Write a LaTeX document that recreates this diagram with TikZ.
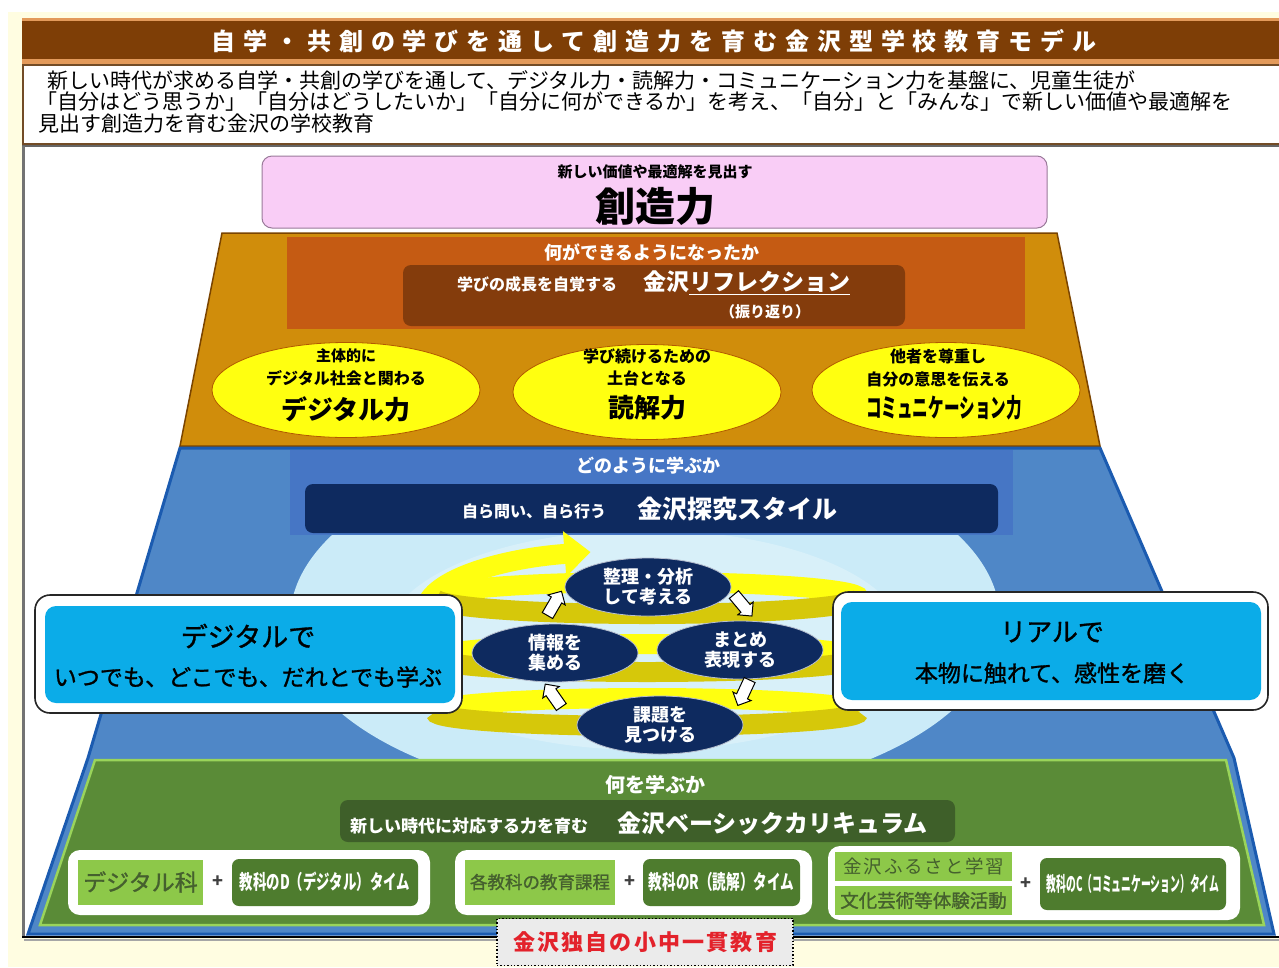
\documentclass[tikz,border=0pt]{standalone}
\usepackage{fontspec}
\setmainfont{Noto Sans CJK JP}
\newfontfamily\jpsp[LetterSpace=33]{Noto Sans CJK JP}
\newfontfamily\jpsq[LetterSpace=10]{Noto Sans CJK JP}
\newfontfamily\jpmed[FakeBold=1.2]{Noto Sans CJK JP}
\usetikzlibrary{shapes.arrows,shapes.geometric,arrows.meta}
\definecolor{cream}{HTML}{FFFDE1}
\definecolor{titlebrown}{HTML}{7E3E06}
\definecolor{titleedge}{HTML}{E39A5A}
\definecolor{pinkfill}{HTML}{F9CDF6}
\definecolor{pinkedge}{HTML}{9A7A9A}
\definecolor{orangefill}{HTML}{D08D0B}
\definecolor{orangeedge}{HTML}{7A4400}
\definecolor{reflfill}{HTML}{C55B13}
\definecolor{refldark}{HTML}{843C0C}
\definecolor{ylw}{HTML}{FFFF10}
\definecolor{ylwdark}{HTML}{D6C80A}
\definecolor{bluefill}{HTML}{4F87C7}
\definecolor{blueband}{HTML}{4676C5}
\definecolor{blueedge}{HTML}{1B5BB0}
\definecolor{lightcyan}{HTML}{CBEBF8}
\definecolor{navy}{HTML}{0E2A5F}
\definecolor{cyanbox}{HTML}{0BACE8}
\definecolor{greenfill}{HTML}{5A8B37}
\definecolor{greenedge}{HTML}{9AD45A}
\definecolor{greendark}{HTML}{3E5F29}
\definecolor{greenbtn}{HTML}{4E7C2E}
\definecolor{greenlight}{HTML}{8DC849}
\definecolor{greentext}{HTML}{45602E}
\definecolor{redtext}{HTML}{E3222B}
\newcommand\fsz[1]{\fontsize{#1}{#1}\selectfont}
\begin{document}
\begin{tikzpicture}[x=1pt,y=-1pt,
  every node/.style={inner sep=0pt,outer sep=0pt},
  wb/.style={text=white,font=\bfseries},
  yel/.style={ellipse,fill=ylw,draw=orange!70!black,line width=0.8pt,minimum width=268pt,minimum height=95pt},
  cyc/.style={ellipse,fill=navy,draw=white!70!navy,line width=0.8pt,minimum width=166pt,minimum height=58pt,text=white,align=center,font=\fontsize{18}{20}\selectfont\bfseries},
  warr/.style={single arrow,draw=black,fill=white,line width=1pt,inner sep=5.5pt,minimum height=28pt,single arrow head extend=4pt},
  ring/.style={line width=20pt},
  sidebox/.style={draw=black!85,line width=1.6pt,fill=white,rounded corners=15pt},
  sideinner/.style={fill=cyanbox,rounded corners=11pt},
  whitebox/.style={fill=white,rounded corners=12pt},
  lgbox/.style={fill=greenlight},
  dgbox/.style={fill=greenbtn,rounded corners=7pt},
  plus/.style={text=black!75,font=\fsz{18}\bfseries}
]
\useasboundingbox (0,0) rectangle (1279,967);
\fill[white] (0,0) rectangle (1279,967);
\fill[cream] (8,12) rectangle (1279,967);

% title bar
\fill[titleedge] (22,18) rectangle (1279,65);
\fill[titlebrown] (22,21) rectangle (1279,59);
\node[wb,font=\jpsp\fsz{24}\bfseries] (title) at (654,41) {自学・共創の学びを通して創造力を育む金沢型学校教育モデル};

% intro
\draw[draw=brown!60!black,line width=1.2pt,fill=white] (23,65) rectangle (1285,144);
\node[anchor=west,font=\fsz{21}] (intro1) at (47,80) {新しい時代が求める自学・共創の学びを通して、デジタル力・読解力・コミュニケーション力を基盤に、児童生徒が};
\node[anchor=west,font=\fsz{21}] (intro2) at (36,102) {「自分はどう思うか」「自分はどうしたいか」「自分に何ができるか」を考え、「自分」と「みんな」で新しい価値や最適解を};
\node[anchor=west,font=\fsz{21}] (intro3) at (38,124) {見出す創造力を育む金沢の学校教育};

% frame
\fill[white] (22,146) rectangle (1279,937);
\draw[black!60,line width=2.5pt] (22,146) -- (1279,146);
\draw[black!55,line width=3pt] (23,146) -- (23,938);

% pink
\draw[fill=pinkfill,draw=pinkedge,line width=1pt,rounded corners=10pt] (262,156) rectangle (1047,228);
\node[font=\fsz{15}\bfseries] (pk1) at (655,172) {新しい価値や最適解を見出す};
\node[font=\fsz{40}\bfseries] (pk2) at (655,206) {創造力};

% orange trapezoid
\draw[fill=orangefill,draw=orangeedge,line width=1.5pt] (222,233) -- (1057,233) -- (1100,446) -- (180,446) -- cycle;
\fill[reflfill] (287,237) rectangle (1025,329);
\node[wb,font=\fsz{18}\bfseries] (rh) at (652,252) {何ができるようになったか};
\fill[refldark,rounded corners=8pt] (403,265) rectangle (905,326);
\node[wb,anchor=west,font=\fsz{16}\bfseries] (rs) at (457,284) {学びの成長を自覚する};
\node[wb,anchor=west,font=\fsz{23}\bfseries] (kzw) at (643,282) {金沢};
\node[wb,anchor=west,font=\fsz{23}\bfseries] (rfx) at (kzw.east) {リフレクション};
\draw[white,line width=1.3pt] ([yshift=-2pt]rfx.south west) -- ([yshift=-2pt]rfx.south east);
\node[wb,font=\fsz{15}\bfseries] (frk) at (765,312) {（振り返り）};

\node[yel] (e1) at (346,390) {};
\node[yel] (e2) at (647,392) {};
\node[yel] (e3) at (946,390) {};
\node[font=\fsz{15}\bfseries] (e1a) at ([yshift=34pt]e1.center) {主体的に};
\node[font=\fsz{16}\bfseries] (e1b) at ([yshift=12pt]e1.center) {デジタル社会と関わる};
\node[font=\fsz{26}\bfseries] (e1c) at ([yshift=-19pt]e1.center) {デジタル力};
\node[font=\fsz{16}\bfseries] (e2a) at ([yshift=36pt]e2.center) {学び続けるための};
\node[font=\fsz{16}\bfseries] (e2b) at ([yshift=14pt]e2.center) {土台となる};
\node[font=\fsz{26}\bfseries] (e2c) at ([yshift=-16pt]e2.center) {読解力};
\node[font=\fsz{16}\bfseries] (e3a) at ([xshift=-8pt,yshift=34pt]e3.center) {他者を尊重し};
\node[font=\fsz{16}\bfseries] (e3b) at ([xshift=-8pt,yshift=11pt]e3.center) {自分の意思を伝える};
\node[font=\fsz{26}\bfseries] (e3c) at ([xshift=-2pt,yshift=-18pt]e3.center) {\scalebox{0.6}[1]{コミュニケーション力}};

% blue section
\draw[fill=bluefill,draw=blueedge,line width=3pt] (180,448) -- (1100,448) -- (1234,758) -- (1274,934) -- (28,934) -- (88,758) -- cycle;
\begin{scope}
  \clip (180,450) -- (1100,450) -- (1234,758) -- (1274,934) -- (28,934) -- (88,758) -- cycle;
  \fill[lightcyan] (645,620) ellipse [x radius=355, y radius=180];
  \fill[white,opacity=0.25] (645,640) ellipse [x radius=260, y radius=110];
\end{scope}
\fill[blueband] (290,450) rectangle (1013,535);
\node[wb,font=\fsz{18}\bfseries] (bh) at (648,466) {どのように学ぶか};
\fill[navy,rounded corners=8pt] (305,484) rectangle (998,533);
\node[wb,anchor=west,font=\fsz{16}\bfseries] (bs) at (462,511) {自ら問い、自ら行う};
\node[wb,anchor=west,font=\fsz{25}\bfseries] (bt) at (637,509) {金沢探究スタイル};

% spiral
\foreach \yc/\ry in {598/16, 658/14, 712/14} {
  \draw[ring,color=ylw] (435,\yc) arc[start angle=180,end angle=360,x radius=212,y radius=\ry];
}
\draw[line width=20pt,color=ylw,-{Triangle[length=26pt,width=44pt]}] (426,610) arc[start angle=180,end angle=255,x radius=222,y radius=60];
\foreach \yc/\ry in {598/16, 658/14, 712/14} {
  \draw[ring,color=ylwdark] (859,\yc) arc[start angle=0,end angle=180,x radius=212,y radius=\ry];
}

\node[cyc] (c1) at (648,587) {整理・分析\\して考える};
\node[cyc] (c2) at (740,650) {まとめ\\表現する};
\node[cyc] (c3) at (660,725) {課題を\\見つける};
\node[cyc] (c4) at (555,653) {情報を\\集める};
\node[warr,rotate=60] (a1) at (553,606) {};
\node[warr,rotate=-50] (a2) at (741,603) {};
\node[warr,rotate=-115] (a3) at (745,690) {};
\node[warr,rotate=125] (a4) at (555,698) {};

% side boxes
\draw[sidebox] (35,595) rectangle (462,713);
\fill[sideinner] (45,606) rectangle (455,703);
\node[font=\jpmed\fsz{27}] (d1) at (248,636) {デジタルで};
\node[font=\jpmed\fsz{23}] (d2) at (248,677) {いつでも、どこでも、だれとでも学ぶ};
\draw[sidebox] (833,592) rectangle (1268,710);
\fill[sideinner] (841,602) rectangle (1261,700);
\node[font=\jpmed\fsz{26}] (r1) at (1052,632) {リアルで};
\node[font=\jpmed\fsz{23}] (r2) at (1052,673) {本物に触れて、感性を磨く};

% green section
\draw[fill=greenfill,draw=greenedge,line width=2.5pt] (95,760) -- (1226,760) -- (1264,925) -- (40,925) -- cycle;
\node[wb,font=\fsz{20}\bfseries] (gh) at (655,785) {何を学ぶか};
\fill[greendark,rounded corners=8pt] (340,800) rectangle (955,842);
\node[wb,anchor=west,font=\fsz{17}\bfseries] (gs) at (350,826) {新しい時代に対応する力を育む};
\node[wb,anchor=west,font=\fsz{24}\bfseries] (gt) at (617,823) {金沢ベーシックカリキュラム};

\fill[whitebox] (68,850) rectangle (430,915);
\fill[lgbox] (78,860) rectangle (203,905);
\node[text=greentext,font=\jpmed\fsz{23}] (g1) at (140.5,882) {デジタル科};
\node[plus] (p1) at (218,882) {+};
\fill[dgbox] (232,859) rectangle (418,906);
\node[wb,font=\fsz{20}\bfseries] (g2) at (325,882) {\scalebox{0.67}[1]{教科のD（デジタル）タイム}};

\fill[whitebox] (455,850) rectangle (812,915);
\fill[lgbox] (465,860) rectangle (615,905);
\node[text=greentext,font=\jpmed\fsz{17.5}] (g3) at (540,882) {各教科の教育課程};
\node[plus] (p2) at (630,882) {+};
\fill[dgbox] (643,859) rectangle (800,906);
\node[wb,font=\fsz{20}\bfseries] (g4) at (721.5,882) {\scalebox{0.68}[1]{教科のR（読解）タイム}};

\fill[whitebox] (828,846) rectangle (1240,920);
\fill[lgbox] (835,852) rectangle (1012,881);
\fill[lgbox] (835,886) rectangle (1012,915);
\node[text=greentext,font=\jpsq\fsz{18.5}] (g5) at (924,866.5) {金沢ふるさと学習};
\node[text=greentext,font=\jpmed\fsz{18.5}] (g6) at (923.5,900.5) {文化芸術等体験活動};
\node[plus] (p3) at (1026,884) {+};
\fill[dgbox] (1040,858) rectangle (1226,910);
\node[wb,font=\fsz{20}\bfseries] (g7) at (1133,884) {\scalebox{0.49}[1]{教科のC（コミュニケーション）タイム}};

% frame bottom
\draw[black,line width=2pt] (22,937) -- (1279,937);
\draw[black!35,line width=2pt] (24,940) -- (1279,940);

% bottom label
\node[draw=black,dotted,line width=1.4pt,fill=black!8,minimum width=296pt,minimum height=47pt] (lbl) at (645,942) {};
\node[text=redtext,font=\jpsq\fsz{22}\bfseries] (lblt) at (lbl.center) {金沢独自の小中一貫教育};
\end{tikzpicture}
\end{document}
